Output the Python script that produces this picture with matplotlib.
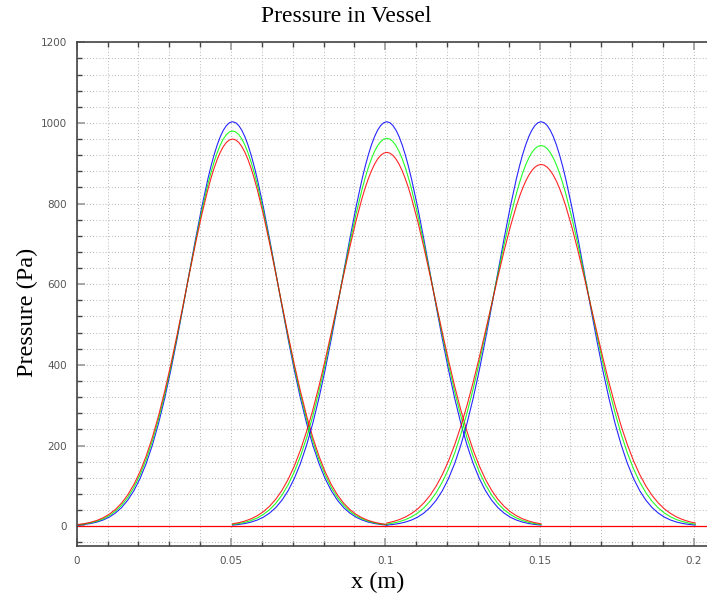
import matplotlib
matplotlib.use("Agg")
import matplotlib.pyplot as plt
from matplotlib.ticker import FixedLocator, MultipleLocator

# ---------------- data ----------------
title = "Pressure in Vessel"
x_label = "x (m)"
y_label = "Pressure (Pa)"

x_ticks = [0, 0.05, 0.1, 0.15, 0.2]
x_tick_labels = ["0", "0.05", "0.1", "0.15", "0.2"]
y_ticks = [0, 200, 400, 600, 800, 1000, 1200]
y_tick_labels = ["0", "200", "400", "600", "800", "1000", "1200"]

zero_level = 0.0
peak_centers = [0.0505, 0.1005, 0.1505]

# distance from each pulse peak (profiles read as symmetric about the peak)
dist_from_peak = [0, 0.001, 0.002, 0.003, 0.004, 0.005, 0.006, 0.007, 0.008,
                  0.010, 0.012, 0.014, 0.016, 0.018, 0.020, 0.022, 0.024,
                  0.026, 0.028, 0.030, 0.032, 0.034, 0.036, 0.038, 0.040,
                  0.042, 0.044, 0.046, 0.048, 0.050]

blue_p1 = [1003, 1000.6, 993.5, 981.8, 965.6, 945.1, 920.7, 892.7, 861.4,
           790.7, 712.2, 629.4, 545.6, 464.2, 387.4, 317.3, 254.9, 201.0,
           155.4, 118.0, 87.8, 64.2, 46.0, 32.4, 22.3, 15.1, 10.0, 6.5, 4.2, 2.6]
green_p1 = [980, 977.8, 971.1, 960.2, 945.0, 925.9, 903.1, 876.9, 847.5,
            781.0, 706.7, 628.0, 548.0, 469.6, 395.2, 326.6, 265.0, 211.2,
            165.3, 127.0, 95.8, 71.0, 51.7, 36.9, 25.9, 17.9, 12.1, 8.0, 5.2, 3.4]
red_p1 = [960, 957.9, 951.7, 941.4, 927.1, 909.1, 887.6, 862.8, 835.1,
          772.1, 701.5, 626.4, 549.6, 474.0, 401.6, 334.5, 273.7, 220.2,
          174.0, 135.1, 103.2, 77.4, 57.0, 41.3, 29.4, 20.6, 14.1, 9.6, 6.3, 4.1]

blue_p2 = [1003, 1000.6, 993.5, 981.8, 965.6, 945.1, 920.7, 892.7, 861.4,
           790.7, 712.2, 629.4, 545.6, 464.2, 387.4, 317.3, 254.9, 201.0,
           155.4, 118.0, 87.8, 64.2, 46.0, 32.4, 22.3, 15.1, 10.0, 6.5, 4.2, 2.6]
green_p2 = [962, 959.9, 953.6, 943.3, 928.9, 910.8, 889.2, 864.2, 836.3,
            773.0, 702.1, 626.6, 549.6, 473.6, 401.1, 333.8, 272.9, 219.3,
            173.2, 134.4, 102.5, 76.8, 56.5, 40.9, 29.1, 20.3, 13.9, 9.4, 6.2, 4.1]
red_p2 = [927, 925.1, 919.5, 910.2, 897.4, 881.1, 861.6, 839.2, 814.0,
          756.6, 691.9, 622.6, 551.1, 480.0, 411.4, 346.9, 287.7, 234.9,
          188.6, 149.0, 115.8, 88.6, 66.7, 49.4, 35.9, 25.8, 18.2, 12.6, 8.6, 5.8]

blue_p3 = [1003, 1000.6, 993.5, 981.8, 965.6, 945.1, 920.7, 892.7, 861.4,
           790.7, 712.2, 629.4, 545.6, 464.2, 387.4, 317.3, 254.9, 201.0,
           155.4, 118.0, 87.8, 64.2, 46.0, 32.4, 22.3, 15.1, 10.0, 6.5, 4.2, 2.6]
green_p3 = [944, 942.0, 936.1, 926.3, 912.7, 895.6, 875.1, 851.4, 824.9,
            764.7, 697.1, 624.8, 550.7, 477.2, 406.6, 340.7, 280.7, 227.4,
            181.2, 141.9, 109.3, 82.8, 61.6, 45.1, 32.5, 23.0, 16.0, 11.0, 7.4, 4.9]
red_p3 = [897, 895.3, 890.2, 881.8, 870.1, 855.3, 837.6, 817.2, 794.1,
          741.6, 682.0, 617.7, 551.1, 484.2, 419.0, 357.1, 299.8, 247.8,
          201.8, 161.8, 127.8, 99.4, 76.1, 57.5, 42.7, 31.3, 22.5, 16.0, 11.2, 7.7]

series_colors = {"blue": "#0000ff", "green": "#00ff00", "red": "#ff0000"}
pulses = [
    {"blue": blue_p1, "green": green_p1, "red": red_p1},
    {"blue": blue_p2, "green": green_p2, "red": red_p2},
    {"blue": blue_p3, "green": green_p3, "red": red_p3},
]

# ---------------- figure ----------------
W, H = 707, 600
fig = plt.figure(figsize=(W / 100, H / 100), dpi=100)
left_px, right_px, top_px, bottom_px = 76.8, 707.0, 42.3, 546.3
ax = fig.add_axes([left_px / W, 1 - bottom_px / H,
                   (right_px - left_px) / W, (bottom_px - top_px) / H])

ax.set_xlim(0, 0.2043)
ax.set_ylim(-50, 1200)

ax.axhline(zero_level, color=series_colors["red"], lw=0.9, zorder=2)

for center, pulse in zip(peak_centers, pulses):
    for name in ["blue", "green", "red"]:
        vals = pulse[name]
        xs = [center - d for d in reversed(dist_from_peak[1:])] + \
             [center + d for d in dist_from_peak]
        ys = list(reversed(vals[1:])) + list(vals)
        ax.plot(xs, ys, color=series_colors[name], lw=0.8, alpha=0.85,
                solid_joinstyle="round", zorder=3)

# ticks
ax.xaxis.set_major_locator(FixedLocator(x_ticks))
ax.set_xticklabels(x_tick_labels)
ax.yaxis.set_major_locator(FixedLocator(y_ticks))
ax.set_yticklabels(y_tick_labels)
ax.xaxis.set_minor_locator(MultipleLocator(0.01))
ax.yaxis.set_minor_locator(MultipleLocator(40))

ax.tick_params(which="both", direction="in", top=True, right=False,
               labelsize=7.5, labelcolor="#555555")
ax.tick_params(which="major", length=6, width=1.2, color="#999999", pad=7)
ax.tick_params(which="minor", length=3.5, width=1.0, color="#444444")

ax.grid(True, which="both", linestyle=(0, (1, 2)), linewidth=0.75,
        color="#bcbcbc", zorder=0)
ax.set_axisbelow(True)

for side in ["left", "bottom", "top"]:
    ax.spines[side].set_color("#444444")
    ax.spines[side].set_linewidth(1.2)
ax.spines["right"].set_visible(False)

serif = ["Liberation Serif", "DejaVu Serif"]
fig.text(346 / W, 1 - 16 / H, title, ha="center", va="center",
         fontsize=17, family=serif)
fig.text(27 / W, 1 - 312 / H, y_label, ha="center", va="center",
         rotation=90, fontsize=17.5, family=serif)
fig.text(378 / W, 1 - 582 / H, x_label, ha="center", va="center",
         fontsize=17.5, family=serif)

fig.savefig("out.png", dpi=100)
